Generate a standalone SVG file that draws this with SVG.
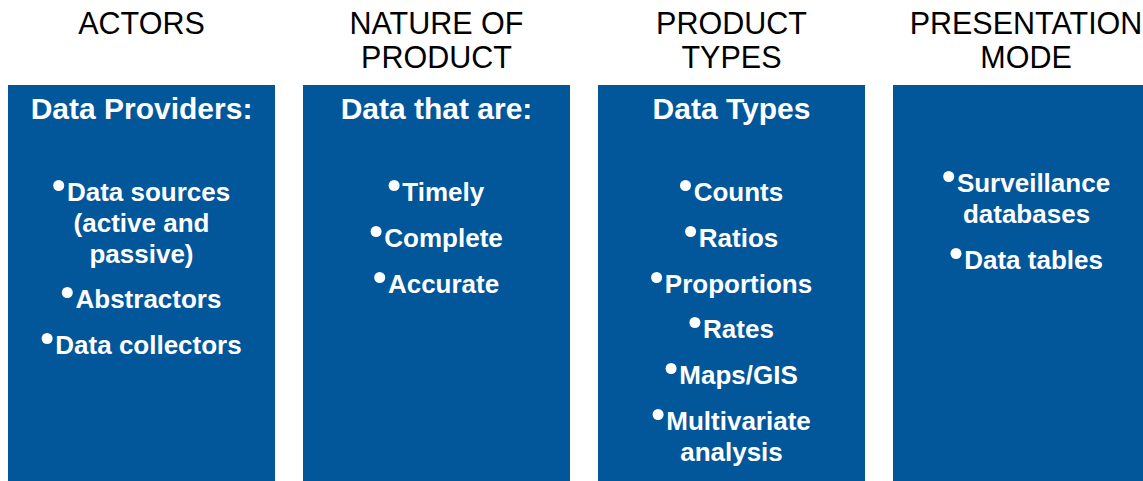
<svg xmlns="http://www.w3.org/2000/svg" width="1143" height="481" viewBox="0 0 1143 481">
<style>
.hd{font-family:"Liberation Sans",Arial,sans-serif;font-size:30.5px;fill:#000;text-anchor:middle}
.bt{font-family:"Liberation Sans",Arial,sans-serif;font-size:30px;font-weight:bold;fill:#fff;text-anchor:middle}
.it{font-family:"Liberation Sans",Arial,sans-serif;font-size:26px;font-weight:bold;fill:#fff}
.mid{text-anchor:middle}
.box{fill:#02569A}
.dot{fill:#fff}
</style>
<rect width="1143" height="481" fill="#fff"/>
<g id="actors">
<text class="hd" x="141.5" y="33.5">ACTORS</text>
<rect class="box" x="8" y="85" width="267" height="396"/>
<text class="bt" x="141.5" y="119">Data Providers:</text>
<circle class="dot" cx="58.7" cy="185.5" r="5.5"/>
<text class="it" x="66.9" y="201">Data sources</text>
<text class="it mid" x="141.5" y="232">(active and</text>
<text class="it mid" x="141.5" y="263">passive)</text>
<circle class="dot" cx="67.3" cy="292.5" r="5.5"/>
<text class="it" x="75.5" y="308">Abstractors</text>
<circle class="dot" cx="47.1" cy="338.5" r="5.5"/>
<text class="it" x="55.3" y="354">Data collectors</text>
</g>
<g id="nature">
<text class="hd" x="436.5" y="33.5">NATURE OF</text>
<text class="hd" x="436.5" y="67.5">PRODUCT</text>
<rect class="box" x="303" y="85" width="267" height="396"/>
<text class="bt" x="436.5" y="119">Data that are:</text>
<circle class="dot" cx="394.1" cy="185.5" r="5.5"/>
<text class="it" x="402.3" y="201">Timely</text>
<circle class="dot" cx="376.1" cy="231.5" r="5.5"/>
<text class="it" x="384.3" y="247">Complete</text>
<circle class="dot" cx="379.7" cy="277.5" r="5.5"/>
<text class="it" x="387.9" y="293">Accurate</text>
</g>
<g id="types">
<text class="hd" x="731.5" y="33.5">PRODUCT</text>
<text class="hd" x="731.5" y="67.5">TYPES</text>
<rect class="box" x="598" y="85" width="267" height="396"/>
<text class="bt" x="731.5" y="119">Data Types</text>
<circle class="dot" cx="685.5" cy="185.5" r="5.5"/>
<text class="it" x="693.7" y="201">Counts</text>
<circle class="dot" cx="690.6" cy="231.5" r="5.5"/>
<text class="it" x="698.8" y="247">Ratios</text>
<circle class="dot" cx="656.6" cy="277.5" r="5.5"/>
<text class="it" x="664.8" y="293">Proportions</text>
<circle class="dot" cx="694.9" cy="322.5" r="5.5"/>
<text class="it" x="703.1" y="338">Rates</text>
<circle class="dot" cx="671.1" cy="368.5" r="5.5"/>
<text class="it" x="679.3" y="384">Maps/GIS</text>
<circle class="dot" cx="658.1" cy="414.5" r="5.5"/>
<text class="it" x="666.3" y="430">Multivariate</text>
<text class="it mid" x="731.5" y="461">analysis</text>
</g>
<g id="presentation">
<text class="hd" x="1026" y="33.5">PRESENTATION</text>
<text class="hd" x="1026" y="67.5">MODE</text>
<rect class="box" x="893" y="85" width="250" height="396"/>
<circle class="dot" cx="948.7" cy="176.5" r="5.5"/>
<text class="it" x="956.9" y="192">Surveillance</text>
<text class="it mid" x="1026.5" y="223">databases</text>
<circle class="dot" cx="956" cy="253.5" r="5.5"/>
<text class="it" x="964.2" y="269">Data tables</text>
</g>
<g id="connectors"></g>
</svg>
